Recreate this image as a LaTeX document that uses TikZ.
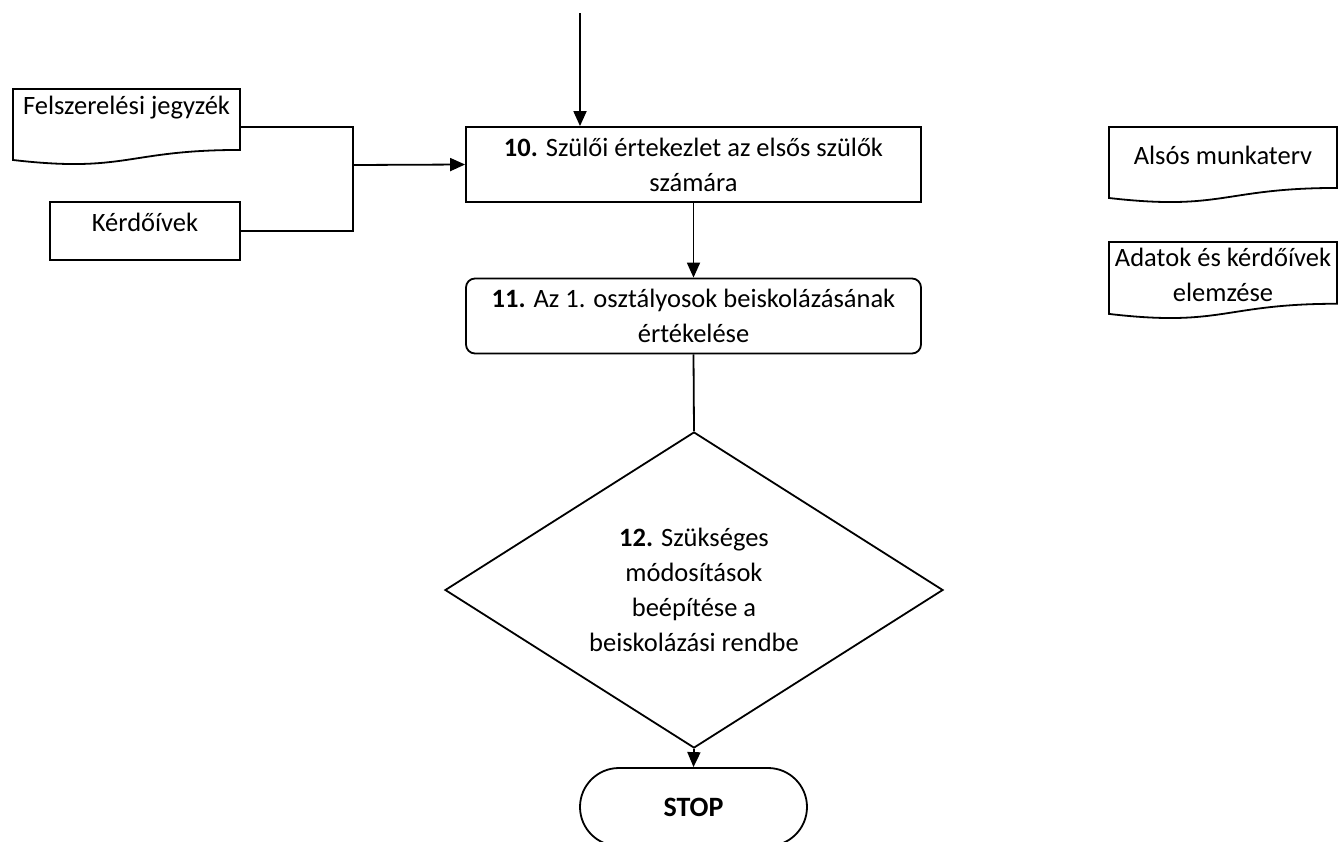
\documentclass[tikz,border=0pt]{standalone}
\usepackage{fontspec}
\setmainfont{Carlito}
\usetikzlibrary{arrows.meta,shapes.geometric,shapes.misc,calc}
\tikzset{
  line/.style={line width=1.8pt, line join=miter},
  arr/.style={line, -{Triangle[length=15pt,width=13pt]}},
  txt/.style={font=\fontsize{26.5}{35}\selectfont, align=center, inner sep=0pt},
  procbox/.style={line, draw, txt, minimum width=455pt, minimum height=75pt},
}
\newcommand\docpath[4]{%
  \draw[line] (#1,#2) -- ({#1+#3},#2) -- ({#1+#3},{#2+0.802*#4})
    .. controls ({#1+0.5*#3},{#2+0.802*#4}) and ({#1+0.5*#3},{#2+1.1075*#4}) ..
    (#1,{#2+0.934*#4}) -- cycle;}
\begin{document}
\begin{tikzpicture}[x=1pt,y=-1pt]
\useasboundingbox (0,0) rectangle (1338,841);
\clip (0,0) rectangle (1338,841);

% main chain
\coordinate (top) at (580,13);
\node[procbox] (b10) at (693.5,164.5) {\textbf{10.} Szülői értekezlet az elsős szülők\\számára};
\node[procbox, rounded corners=9pt] (b11) at (693.5,316) {\textbf{11.} Az 1. osztályosok beiskolázásának\\értékelése};
\node[line, draw, diamond, txt, minimum width=498pt, minimum height=316pt, aspect=1.576] (d12) at (694,590)
  {\textbf{12.} Szükséges\\módosítások\\beépítése a\\beiskolázási rendbe};
\node[line, draw, rounded rectangle, minimum width=227pt, minimum height=78pt, txt, font=\fontsize{28}{35}\selectfont] (stop) at (693.5,807) {\textbf{STOP}};

\draw[arr] (top) -- (top |- b10.north);
\draw[arr] (b10.south) -- (b11.north);
\draw[line] (b11.south) -- (d12.north);
\draw[arr] (d12.south) -- (stop.north);

% left documents
\docpath{13}{89}{227}{76}
\node[txt] (felsz) at (126.5,108) {Felszerelési jegyzék};
\coordinate (felszout) at (240,127);
\node[line, draw, minimum width=190pt, minimum height=58pt] (kerd) at (145,231) {};
\node[txt] (kerdt) at (145,222) {Kérdőívek};
\coordinate (join) at (353,165);
\draw[line] (felszout) -| (join) |- (kerd.east);
\draw[arr] (join) -- (b10.west);

% right documents
\docpath{1109}{127}{228}{76}
\node[txt] (also) at (1223,155) {Alsós munkaterv};
\docpath{1109}{242}{228}{77}
\node[txt] (adat) at (1223,275) {Adatok és kérdőívek\\elemzése};
\end{tikzpicture}
\end{document}
